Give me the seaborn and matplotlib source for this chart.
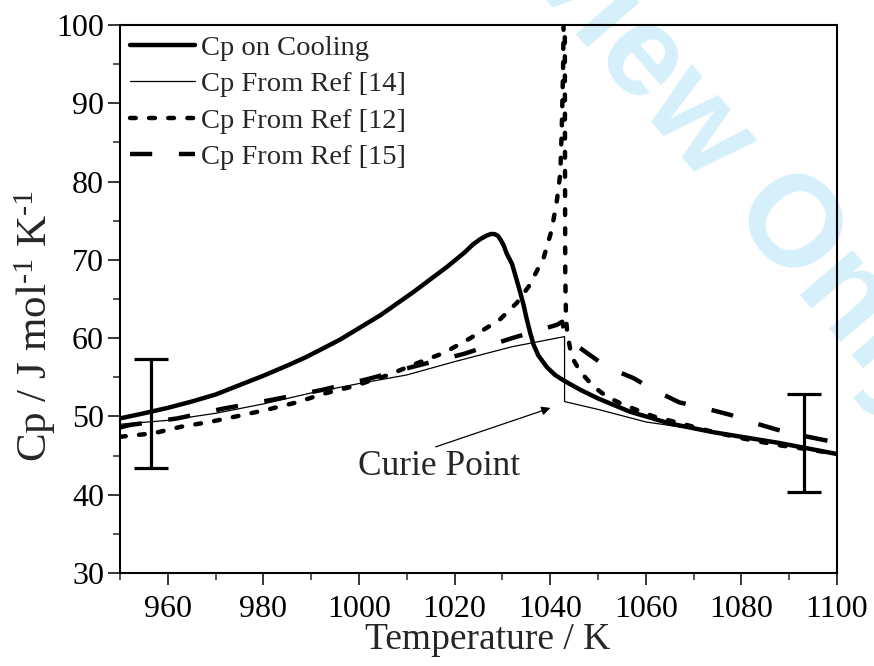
import matplotlib
matplotlib.use('Agg')
import matplotlib.pyplot as plt
import seaborn as sns
import pandas as pd
from matplotlib.ticker import MultipleLocator

# Cp on cooling (measured, thick line)
t_cool = [950, 955, 960, 965, 970, 975, 980, 985, 989, 996, 1004.4, 1011.4, 1018.4, 1022,
          1023.9, 1025.5, 1026.7, 1027.6, 1028.3, 1029, 1029.6, 1030.3, 1030.9, 1032.0,
          1033.0, 1033.7, 1034.4, 1035.1, 1035.8, 1036.5, 1037.5, 1039.3, 1041.0, 1042.8,
          1046.3, 1050, 1056.7, 1065, 1074, 1081, 1088, 1094, 1100]
cp_cool = [49.75, 50.4, 51.1, 51.9, 52.8, 54.0, 55.2, 56.5, 57.6, 59.8, 62.9, 65.9, 69.1, 70.9,
           72.0, 72.7, 73.1, 73.3, 73.3, 73.1, 72.6, 71.8, 70.8, 69.5,
           67.4, 65.9, 64.3, 62.4, 60.7, 59.2, 57.8, 56.3, 55.3, 54.6,
           53.4, 52.3, 50.6, 49.1, 48.0, 47.3, 46.6, 45.9, 45.2]

# Ref [14] (thin line, step at the Curie point)
t_ref14 = [950, 960, 970, 980, 990, 1000, 1010, 1020, 1032, 1043, 1043,
           1050, 1060, 1070, 1080, 1090, 1100]
cp_ref14 = [49.0, 49.5, 50.4, 51.6, 53.0, 54.2, 55.3, 57.0, 58.9, 60.2, 51.9,
            50.9, 49.3, 48.4, 47.3, 46.3, 45.3]

# Ref [12] (dotted, lambda shaped divergence)
t_ref12 = [950, 957, 962.9, 968.8, 975.1, 981, 987, 992.6, 998.5, 1006.2, 1011.3, 1017.7,
           1023.3, 1029.5, 1033, 1035.5, 1038.6, 1040.3, 1041.4, 1042.1, 1042.4, 1042.7,
           1042.8, 1042.9, 1043.0, 1043.05, 1043.1, 1043.15, 1043.3, 1043.6, 1044.5,
           1046.3, 1049.1, 1051.9, 1055.3, 1061.6, 1068, 1074.2, 1081, 1088.1, 1094, 1100]
cp_ref12 = [47.4, 47.85, 48.7, 49.3, 50.1, 50.9, 51.8, 52.9, 53.8, 55.3, 56.6, 58.1,
            60.0, 62.4, 64.5, 66.6, 70.2, 73.8, 77.6, 81.0, 86.2, 94.7,
            100.5, 120, 120, 100, 80, 68, 62.5, 60.5, 57.6,
            55.7, 53.8, 52.5, 51.5, 50.0, 49.0, 48.0, 47.1, 46.3, 45.8, 45.2]

# Ref [15] (dashed)
t_ref15 = [950, 952, 962, 971.6, 982, 992, 1002, 1011, 1022, 1032, 1037, 1041.4, 1042.5,
           1043.2, 1045, 1047.7, 1051.9, 1057.4, 1061.6, 1067, 1072, 1077.7, 1082.5,
           1087.5, 1092.3, 1098, 1100]
cp_ref15 = [48.6, 48.9, 49.75, 51.0, 52.15, 53.35, 54.8, 56.3, 58.0, 60.0, 60.9, 61.7, 62.1,
            60.4, 59.3, 58.1, 56.3, 54.9, 53.4, 51.8, 51.1, 50.2, 49.2,
            48.3, 47.6, 46.9, 46.7]

# error bars
err_t = [956.5, 1093]
err_cp = [50.4, 46.6]
err_size = [7.0, 6.3]

sns.set_theme(style='ticks')
plt.rcParams['font.family'] = ['Liberation Serif', 'DejaVu Serif']
plt.rcParams['mathtext.fontset'] = 'custom'
plt.rcParams['mathtext.rm'] = 'Liberation Serif'
plt.rcParams['mathtext.it'] = 'Liberation Serif:italic'
plt.rcParams['mathtext.bf'] = 'Liberation Serif:bold'

fig = plt.figure(figsize=(8.74, 6.66), dpi=100)
ax = fig.add_axes([0.1373, 0.1396, 0.8204, 0.8229])
ax.set_facecolor('none')

# watermark behind everything
fig.text(611 / 874, 1 - 24 / 666, 'For Review Only', family='Liberation Sans',
         fontweight='bold', fontsize=93, color='#d6f0fb', rotation=-49.3,
         rotation_mode='anchor', ha='center', va='center', zorder=-1)

df_cool = pd.DataFrame({'T': t_cool, 'Cp': cp_cool})
df_14 = pd.DataFrame({'T': t_ref14, 'Cp': cp_ref14})
df_12 = pd.DataFrame({'T': t_ref12, 'Cp': cp_ref12})
df_15 = pd.DataFrame({'T': t_ref15, 'Cp': cp_ref15})

sns.lineplot(data=df_cool, x='T', y='Cp', ax=ax, color='black', lw=3.2,
             sort=False, estimator=None, label='Cp on Cooling')
sns.lineplot(data=df_14, x='T', y='Cp', ax=ax, color='black', lw=0.9,
             sort=False, estimator=None, label='Cp From Ref [14]')
sns.lineplot(data=df_12, x='T', y='Cp', ax=ax, color='black', lw=3.2,
             sort=False, estimator=None, label='Cp From Ref [12]',
             linestyle=(0, (1.3, 3.0)), dash_capstyle='round')
sns.lineplot(data=df_15, x='T', y='Cp', ax=ax, color='black', lw=3.2,
             sort=False, estimator=None, label='Cp From Ref [15]',
             linestyle=(0, (5, 6)))

ax.errorbar(err_t, err_cp, yerr=err_size, fmt='none', ecolor='black',
            elinewidth=2.3, capsize=12, capthick=2.3)

ax.annotate('', xy=(1040.6, 51.2), xytext=(1015.5, 46.0),
            arrowprops=dict(arrowstyle='-|>', lw=0.9, color='black', mutation_scale=13))
ax.text(1016.8, 43.6, 'Curie Point', ha='center', va='center', fontsize=25.5)

ax.set_xlim(950, 1100)
ax.set_ylim(30, 100)
ax.xaxis.set_major_locator(MultipleLocator(20))
ax.xaxis.set_minor_locator(MultipleLocator(10))
ax.yaxis.set_major_locator(MultipleLocator(10))
ax.yaxis.set_minor_locator(MultipleLocator(5))
ax.tick_params(which='major', direction='out', length=8.5, width=1.1,
               labelsize=23, pad=3, colors='black')
ax.tick_params(axis='x', which='major', pad=7)
ax.tick_params(which='minor', direction='out', length=5, width=1.1)
for s in ax.spines.values():
    s.set_linewidth(1.5)
    s.set_color('black')
    s.set_visible(True)

ax.set_xlabel('Temperature / K', fontsize=27)
ax.set_ylabel('Cp / J mol$^{\u20101}$ K$^{\u20101}$', fontsize=31)
ax.xaxis.set_label_coords(0.513, -0.090)
ax.yaxis.set_label_coords(-0.086, 0.451)

ax.legend(loc='upper left', frameon=False, fontsize=20.5, handlelength=2.3,
          handletextpad=0.2, labelspacing=0.37, borderaxespad=0.25, borderpad=0.1)

fig.savefig('out.png', dpi=100)
